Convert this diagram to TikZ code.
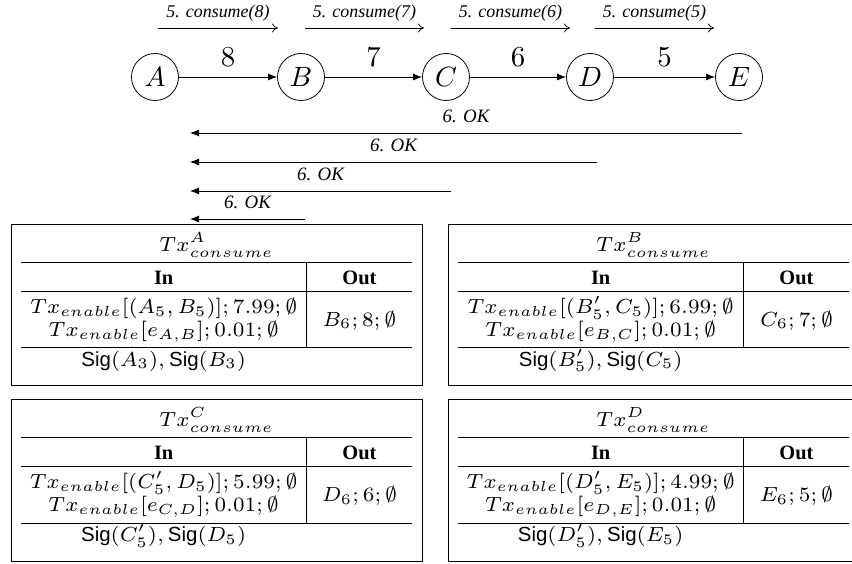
\documentclass[tikz,border=0pt]{standalone}
\usepackage[no-math]{fontspec}
\setmainfont{Liberation Serif}
\setsansfont{Liberation Sans}
\usepackage{graphicx}
\usetikzlibrary{arrows.meta}
\newcommand\sx[1]{\scalebox{2.93}{\fontsize{7}{8}\selectfont #1}}
\newcommand\scaledten[2]{\scalebox{#1}{\fontsize{10}{12}\selectfont #2}}
\tikzset{
  peer/.style={draw, circle, line width=0.8bp, minimum size=47bp, inner sep=0pt},
  edgearrow/.style={line width=0.9bp, -{Latex[length=9bp,width=7bp]}},
  edgelabel/.style={above, inner sep=0pt, yshift=10bp},
  callarrow/.style={line width=0.7bp, -{To[length=6bp,width=9bp]}},
  calllabel/.style={font=\fontsize{18}{20}\selectfont\itshape, above, inner sep=0pt, yshift=6bp},
  okarrow/.style={line width=0.9bp, -{Latex[length=9bp,width=7bp]}},
  oklabel/.style={font=\fontsize{19}{22}\selectfont\itshape, above, inner sep=0pt, yshift=10bp},
  frame/.style={draw, line width=0.9bp},
  rule/.style={draw, line width=0.9bp},
  cell/.style={inner sep=0pt, anchor=base},
}
\newcommand\txtable[7]{%
  % #1 shift x, #2 shift y, #3 superscript, #4 row1, #5 row2, #6 out, #7 sig
  \begin{scope}[shift={(#1,#2)}]
    \draw[frame] (11.7,224) rectangle (422.3,385.7);
    \draw[rule] (20.7,262.3) -- (412.3,262.3);
    \draw[rule] (20.7,291) -- (412.3,291);
    \draw[rule] (20.7,347.7) -- (412.3,347.7);
    \draw[rule] (306.7,262.3) -- (306.7,347.7);
    \node[cell] (t#3) at (216.5,251.5) {\sx{$Tx^{#3}_{consume}$}};
    \node[cell] (in#3) at (163.7,284.5) {\sx{\textbf{In}}};
    \node[cell] (out#3) at (359.5,284.5) {\sx{\textbf{Out}}};
    \node[cell] (ra#3) at (163.7,313.5) {\sx{$#4$}};
    \node[cell] (rb#3) at (163.7,336.5) {\sx{$#5$}};
    \node[cell] (o#3) at (359.5,326) {\sx{$#6$}};
    \node[cell] (s#3) at (163.7,366) {\sx{#7}};
  \end{scope}}
\begin{document}
\begin{tikzpicture}[x=1bp,y=-1bp]
\useasboundingbox (0,0) rectangle (852,564);
\node[peer] (A) at (155,77) {\scaledten{2.8}{$A$}};
\node[peer] (B) at (301,77) {\scaledten{2.8}{$B$}};
\node[peer] (C) at (446,77) {\scaledten{2.8}{$C$}};
\node[peer] (D) at (590,77) {\scaledten{2.8}{$D$}};
\node[peer] (E) at (739,77) {\scaledten{2.8}{$E$}};
\draw[edgearrow] (A) -- node[edgelabel] {\scaledten{2.9}{$8$}} (B);
\draw[edgearrow] (B) -- node[edgelabel] {\scaledten{2.9}{$7$}} (C);
\draw[edgearrow] (C) -- node[edgelabel] {\scaledten{2.9}{$6$}} (D);
\draw[edgearrow] (D) -- node[edgelabel] {\scaledten{2.9}{$5$}} (E);
% call arrows
\coordinate (c1s) at (158,28); \coordinate (c1e) at (278,28);
\coordinate (c2s) at (305,28); \coordinate (c2e) at (424,28);
\coordinate (c3s) at (451,28); \coordinate (c3e) at (570,28);
\coordinate (c4s) at (595,28); \coordinate (c4e) at (714,28);
\draw[callarrow] (c1s) -- node[calllabel] {5. consume(8)} (c1e);
\draw[callarrow] (c2s) -- node[calllabel] {5. consume(7)} (c2e);
\draw[callarrow] (c3s) -- node[calllabel] {5. consume(6)} (c3e);
\draw[callarrow] (c4s) -- node[calllabel] {5. consume(5)} (c4e);
% OK arrows
\coordinate (k1s) at (742,133); \coordinate (k1e) at (190,133);
\coordinate (k2s) at (597,162); \coordinate (k2e) at (190,162);
\coordinate (k3s) at (451,191); \coordinate (k3e) at (190,191);
\coordinate (k4s) at (305,219); \coordinate (k4e) at (190,219);
\draw[okarrow] (k1s) -- node[oklabel] {6. OK} (k1e);
\draw[okarrow] (k2s) -- node[oklabel] {6. OK} (k2e);
\draw[okarrow] (k3s) -- node[oklabel] {6. OK} (k3e);
\draw[okarrow] (k4s) -- node[oklabel] {6. OK} (k4e);
% tables
\txtable{0}{0}{A}{Tx_{enable}[(A_5,B_5)];7.99;\emptyset}{Tx_{enable}[e_{A,B}];0.01;\emptyset}{B_6;8;\emptyset}{$\textsf{Sig}(A_3),\textsf{Sig}(B_3)$}
\txtable{437}{0}{B}{Tx_{enable}[(B'_5,C_5)];6.99;\emptyset}{Tx_{enable}[e_{B,C}];0.01;\emptyset}{C_6;7;\emptyset}{$\textsf{Sig}(B'_5),\textsf{Sig}(C_5)$}
\txtable{0}{175.3}{C}{Tx_{enable}[(C'_5,D_5)];5.99;\emptyset}{Tx_{enable}[e_{C,D}];0.01;\emptyset}{D_6;6;\emptyset}{$\textsf{Sig}(C'_5),\textsf{Sig}(D_5)$}
\txtable{437}{175.3}{D}{Tx_{enable}[(D'_5,E_5)];4.99;\emptyset}{Tx_{enable}[e_{D,E}];0.01;\emptyset}{E_6;5;\emptyset}{$\textsf{Sig}(D'_5),\textsf{Sig}(E_5)$}
\end{tikzpicture}
\end{document}
